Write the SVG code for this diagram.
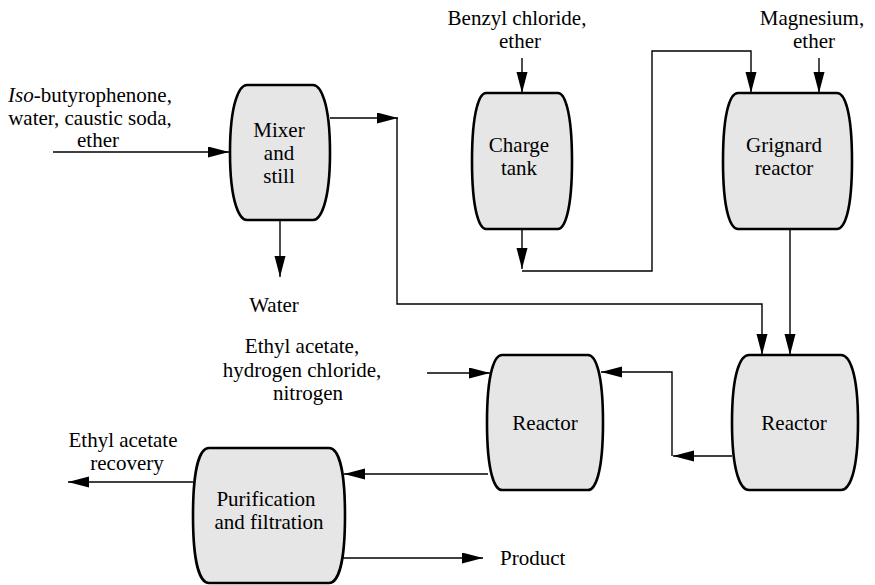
<svg xmlns="http://www.w3.org/2000/svg" width="875" height="585" viewBox="0 0 875 585" font-family="Liberation Serif, Times New Roman, serif">
<style>
.v{fill:#e6e6e6;stroke:#000;stroke-width:2.6}
.c{fill:none;stroke:#000;stroke-width:1.4}
.a{marker-end:url(#ah)}
.t{font-size:21px;fill:#000;text-anchor:middle}
</style>
<defs>
<marker id="ah" markerUnits="userSpaceOnUse" markerWidth="22" markerHeight="12" refX="21" refY="5.5" orient="auto">
<path d="M0,0 L21,5.5 L0,11 Z" fill="#000"/>
</marker>
</defs>
<rect width="875" height="585" fill="#fff"/>
<g id="connectors">
<path class="c a" d="M53,152 H229"/>
<path class="c a" d="M280,220 V277"/>
<path class="c a" d="M330,118 H398"/>
<path class="c a" d="M397,118 V304 H762 V355"/>
<path class="c a" d="M522,58 V93"/>
<path class="c a" d="M522,229 V269"/>
<path class="c a" d="M522,271 H652 V51 H751 V93"/>
<path class="c a" d="M819,58 V93"/>
<path class="c a" d="M790,229 V355"/>
<path class="c a" d="M732,456 H673"/>
<path class="c a" d="M672,456 V372 H601"/>
<path class="c a" d="M427,373 H490"/>
<path class="c a" d="M488,474 H344"/>
<path class="c a" d="M193,482 H68"/>
<path class="c a" d="M342,558 H483"/>
</g>
<g id="mixer" class="t">
<path class="v" d="M247,85 H313 C320,85 330,101 330,152.5 C330,204 320,220 313,220 H247 C240,220 230,204 230,152.5 C230,101 240,85 247,85 Z"/>
<text x="279" y="137">Mixer</text>
<text x="279" y="160">and</text>
<text x="279" y="183">still</text>
</g>
<g id="charge-tank" class="t">
<path class="v" d="M486,93 H558 C564,93 572,109 572,161 C572,213 564,229 558,229 H486 C480,229 472,213 472,161 C472,109 480,93 486,93 Z"/>
<text x="519" y="152">Charge</text>
<text x="519" y="175">tank</text>
</g>
<g id="grignard" class="t">
<path class="v" d="M738,93 H837 C844,93 852,109 852,161 C852,213 844,229 837,229 H738 C731,229 723,213 723,161 C723,109 731,93 738,93 Z"/>
<text x="784" y="152">Grignard</text>
<text x="784" y="175">reactor</text>
</g>
<g id="reactor1" class="t">
<path class="v" d="M502,355 H588 C595,355 603,371 603,422.5 C603,474 595,490 588,490 H502 C495,490 487,474 487,422.5 C487,371 495,355 502,355 Z"/>
<text x="545" y="430">Reactor</text>
</g>
<g id="reactor2" class="t">
<path class="v" d="M749,355 H841 C849,355 858,371 858,422.5 C858,474 849,490 841,490 H749 C741,490 732,474 732,422.5 C732,371 741,355 749,355 Z"/>
<text x="794" y="430">Reactor</text>
</g>
<g id="purification" class="t">
<path class="v" d="M209,448 H329 C337,448 345,464 345,515.5 C345,567 337,583 329,583 H209 C201,583 193,567 193,515.5 C193,464 201,448 209,448 Z"/>
<text x="266" y="506">Purification</text>
<text x="269" y="529">and filtration</text>
</g>
<g id="labels" class="t">
<text x="90" y="102"><tspan font-style="italic">Iso</tspan>-butyrophenone,</text>
<text x="90" y="125">water, caustic soda,</text>
<text x="98" y="147">ether</text>
<text x="274" y="312">Water</text>
<text x="517" y="25">Benzyl chloride,</text>
<text x="520" y="48">ether</text>
<text x="812" y="25">Magnesium,</text>
<text x="814" y="48">ether</text>
<text x="302" y="353">Ethyl acetate,</text>
<text x="302" y="377">hydrogen chloride,</text>
<text x="308" y="400">nitrogen</text>
<text x="123" y="447">Ethyl acetate</text>
<text x="127" y="470">recovery</text>
<text x="500" y="565" text-anchor="start">Product</text>
</g>
</svg>
